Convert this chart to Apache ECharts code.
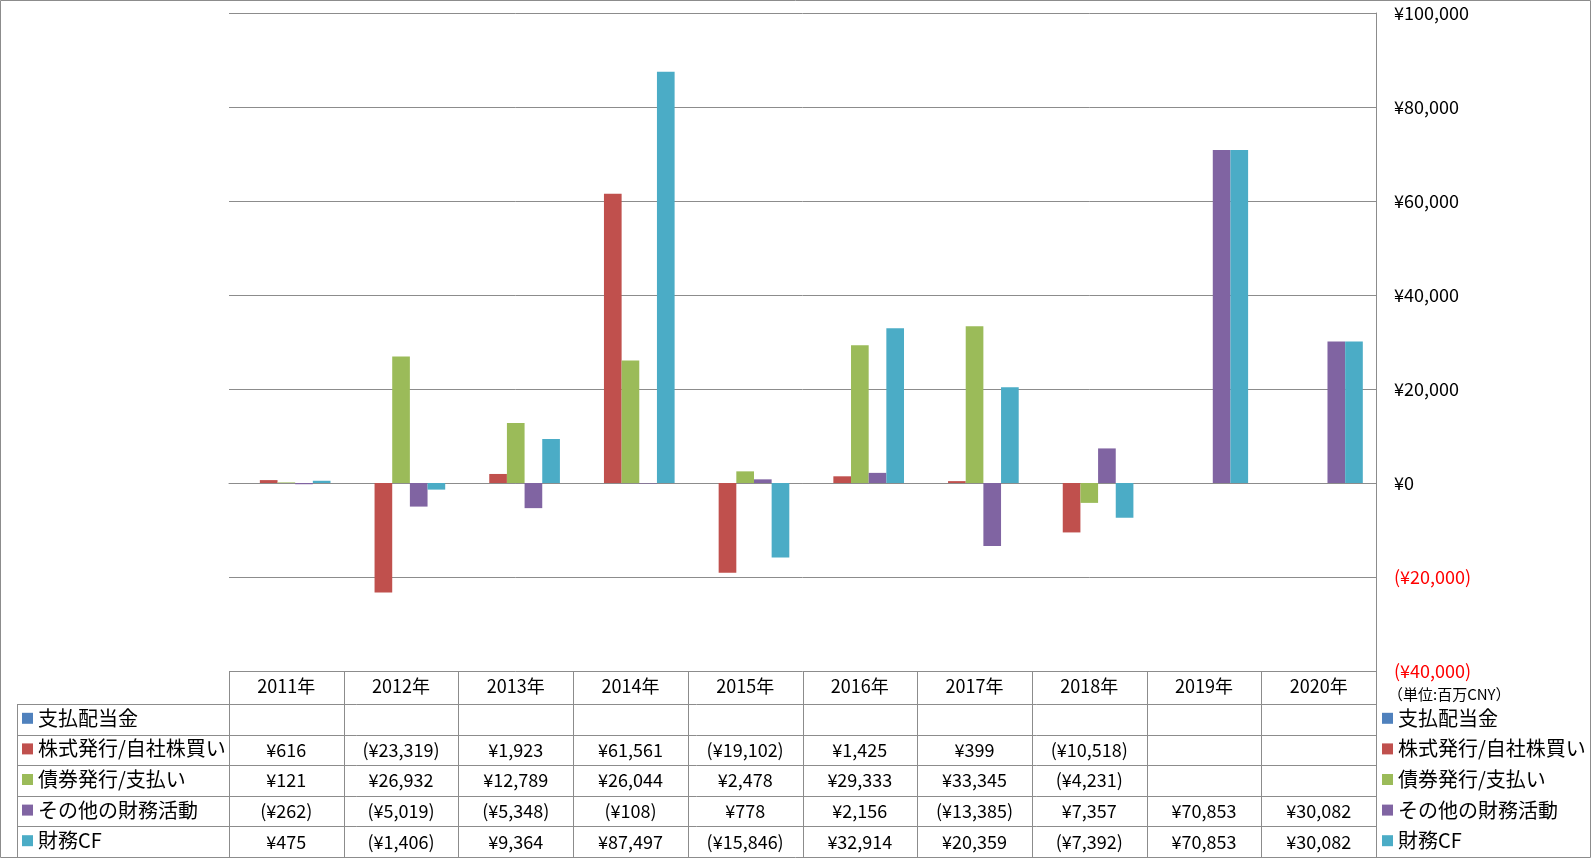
<!DOCTYPE html>
<html><head><meta charset="utf-8">
<script src="https://cdn.jsdelivr.net/npm/echarts/dist/echarts.min.js"></script>
<style>html,body{margin:0;padding:0;background:#fff}#c{width:1591px;height:858px}</style>
</head><body><div id="c"></div>
<script>
// ---- data ----
const categories = ['2011年','2012年','2013年','2014年','2015年','2016年','2017年','2018年','2019年','2020年'];
const seriesNames = ['支払配当金','株式発行/自社株買い','債券発行/支払い','その他の財務活動','財務CF'];
const dividends   = [null, null, null, null, null, null, null, null, null, null];
const equityIssue = [616, -23319, 1923, 61561, -19102, 1425, 399, -10518, null, null];
const bondIssue   = [121, 26932, 12789, 26044, 2478, 29333, 33345, -4231, null, null];
const otherFin    = [-262, -5019, -5348, -108, 778, 2156, -13385, 7357, 70853, 30082];
const financingCF = [475, -1406, 9364, 87497, -15846, 32914, 20359, -7392, 70853, 30082];
const yMin = -40000, yMax = 100000, yStep = 20000;
const unitLabel = '（単位:百万CNY）';

// ---- style ----
const colors = ['#4F81BD','#C0504D','#9BBB59','#8064A2','#4BACC6'];
const FONT = '"Noto Sans CJK JP", "Noto Sans", sans-serif';
const LINE = '#8c8c8c';
const W = 1591, H = 858;
const gridL = 229, gridR = 1376, gridT = 13, gridB = 671;
const headerB = 704, rowH = 30.6, legendColL = 17, tableBottom = 857;

function fmt(v) {
  if (v === null || v === undefined) return '';
  const s = '¥' + Math.abs(v).toLocaleString('en-US');
  return v < 0 ? '(' + s + ')' : s;
}

const allData = [dividends, equityIssue, bondIssue, otherFin, financingCF];

const chart = echarts.init(document.getElementById('c'), null, {renderer: 'canvas'});
const legendBase = {
  orient: 'vertical', top: headerB + (rowH - 21) / 2 - 1, itemGap: rowH - 21,
  itemWidth: 11, itemHeight: 11, icon: 'rect', padding: 0, selectedMode: false,
  textStyle: {fontFamily: FONT, fontSize: 20, lineHeight: 21, color: '#000'},
  data: seriesNames
};
chart.setOption({
  animation: false,
  backgroundColor: '#fff',
  grid: {left: gridL, right: W - gridR, top: gridT, bottom: H - gridB, containLabel: false},
  legend: [
    Object.assign({}, legendBase, {left: 22}),
    Object.assign({}, legendBase, {left: 1382})
  ],
  xAxis: {
    type: 'category', data: categories,
    axisLine: {show: true, onZero: true, lineStyle: {color: LINE, width: 1}},
    axisTick: {show: false}, axisLabel: {show: false}, splitLine: {show: false}
  },
  yAxis: {
    type: 'value', position: 'right', min: yMin, max: yMax, interval: yStep,
    axisLine: {show: true, lineStyle: {color: LINE, width: 1}},
    axisTick: {show: false},
    splitLine: {show: true, lineStyle: {color: LINE, width: 1}},
    axisLabel: {
      margin: 18, fontFamily: FONT, fontSize: 18, color: '#000',
      formatter: v => v < 0 ? '{neg|' + fmt(v) + '}' : fmt(v),
      rich: {neg: {color: '#FF0000', fontFamily: FONT, fontSize: 18}}
    }
  },
  series: seriesNames.map((n, i) => ({
    name: n, type: 'bar', data: allData[i], barGap: '0%', barCategoryGap: '23%',
    itemStyle: {color: colors[i]}
  }))
});

// ---- data table drawn from the axis scale ----
const centers = categories.map((c, i) => chart.convertToPixel({xAxisIndex: 0}, i));
const band = centers.length > 1 ? centers[1] - centers[0] : (gridR - gridL);
const g = [];
const ln = (x1, y1, x2, y2) => g.push({type: 'line', shape: {x1, y1, x2, y2}, style: {stroke: LINE, lineWidth: 1}, silent: true});
// outer frame
g.push({type: 'rect', shape: {x: 0.5, y: 0.5, width: W - 1, height: H - 1}, style: {fill: null, stroke: LINE, lineWidth: 1}, silent: true});
// vertical lines of table
centers.forEach(cx => ln(Math.round(cx - band / 2) + 0.5, gridB, Math.round(cx - band / 2) + 0.5, tableBottom));
ln(gridR + 0.5, gridB, gridR + 0.5, tableBottom);
ln(legendColL + 0.5, headerB, legendColL + 0.5, tableBottom);
// horizontal lines
for (let r = 0; r < seriesNames.length; r++) {
  const y = Math.round(headerB + r * rowH) + 0.5;
  ln(legendColL, y, gridR, y);
}
// header text
centers.forEach((cx, i) => g.push({type: 'text', x: cx, y: (gridB + headerB) / 2 - 1,
  style: {text: categories[i], align: 'center', verticalAlign: 'middle', font: '18px ' + FONT, fill: '#000'}, silent: true}));
// cell text
allData.forEach((arr, r) => {
  const cy = headerB + r * rowH + rowH / 2;
  arr.forEach((v, i) => g.push({type: 'text', x: centers[i], y: cy,
    style: {text: fmt(v), align: 'center', verticalAlign: 'middle', font: '18px ' + FONT, fill: '#000'}, silent: true}));
});
// unit label
g.push({type: 'text', x: 1388, y: 694, style: {text: unitLabel, align: 'left', verticalAlign: 'middle', font: '15px ' + FONT, fill: '#000'}, silent: true});
chart.setOption({graphic: g});
</script>
</body></html>
